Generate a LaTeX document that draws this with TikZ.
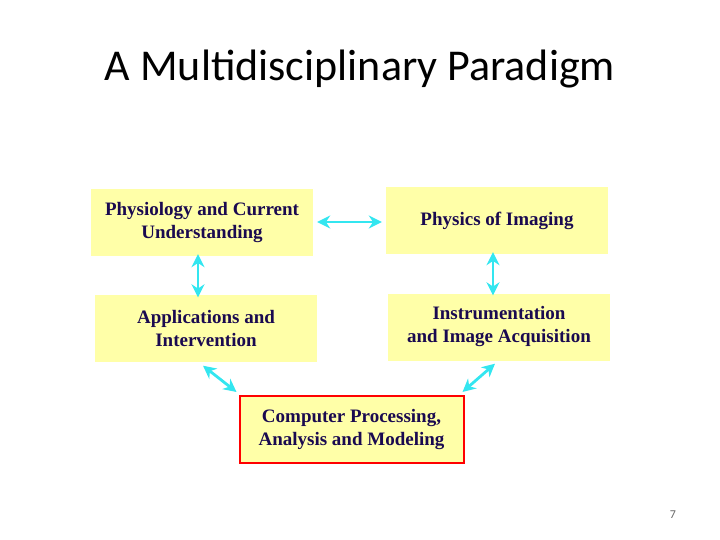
\documentclass[tikz,border=0pt]{standalone}
\usepackage{fontspec}
\setmainfont{Liberation Serif}
\newfontfamily\titlefont{Carlito}
\usetikzlibrary{arrows.meta,calc}
\definecolor{boxfill}{HTML}{FFFFA8}
\definecolor{navy}{HTML}{1A0A50}
\definecolor{arr}{HTML}{33E6F0}
\tikzset{
  box/.style={fill=boxfill,draw=none,minimum width=222pt,minimum height=67pt,inner sep=0pt,align=center,text=navy,font=\bfseries\fontsize{19}{23}\selectfont},
  link/.style={draw=arr,line width=2.8pt,{Stealth[length=13pt,width=13pt]}-{Stealth[length=13pt,width=13pt]}}
}
\begin{document}
\begin{tikzpicture}[x=1pt,y=-1pt]
\useasboundingbox (0,0) rectangle (720,540);
\node[font=\titlefont\fontsize{44}{50}\selectfont] (title) at (360,69) {A Multidisciplinary Paradigm};
\node[box] (phys) at (202,222.5) {Physiology and Current\\Understanding};
\node[box] (img) at (497,220.5) {Physics of Imaging};
\node[box] (app) at (206,328) {Applications and\\Intervention};
\node[box] (ins) at (499,327) {Instrumentation\\and Image Acquisition};
\node[box,draw=red,line width=2pt,minimum width=224pt] (comp) at (351.5,429.5) {Computer Processing,\\Analysis and Modeling};
\node[font=\titlefont\fontsize{12}{14}\selectfont,text=black!60] (pg) at (673,515) {7};
\coordinate (h1) at ($(phys.east)+(4,-0.5)$);
\coordinate (h2) at ($(img.west)+(-4,1.5)$);
\draw[link] (h1) -- (h2);
\draw[link] ([xshift=-4pt,yshift=2pt]phys.south) -- ([xshift=-8pt,yshift=-3pt]app.north);
\draw[link] ([xshift=-4pt,yshift=2pt]img.south) -- ([xshift=-6pt,yshift=-2pt]ins.north);
\coordinate (a1) at ($(app.south)+(-3,4)$);
\coordinate (a2) at ($(comp.north west)+(-2,-3)$);
\draw[link] (a1) -- (a2);
\coordinate (b1) at ($(ins.south)+(-4,3)$);
\coordinate (b2) at ($(comp.north east)+(-2,-3)$);
\draw[link] (b1) -- (b2);
\end{tikzpicture}
\end{document}
